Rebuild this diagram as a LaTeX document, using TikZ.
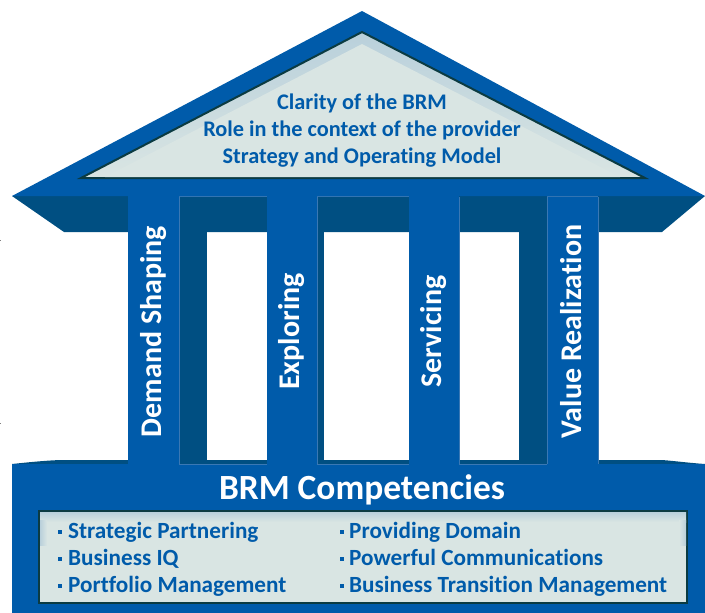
\documentclass[tikz,border=0pt]{standalone}
\usepackage{fontspec}
\setmainfont[Ligatures=NoCommon]{Carlito}
\definecolor{brmblue}{HTML}{005BAA}
\definecolor{brmdark}{HTML}{004F82}
\definecolor{brmlight}{HTML}{D9E5E3}
\definecolor{brmshade}{HTML}{B9D0DB}
\definecolor{brmline}{HTML}{0B3B42}
\definecolor{brmedge}{HTML}{3A78B4}
\tikzset{
  roofline/.style={font=\bfseries\fontsize{22.3}{22.3}\selectfont,text=brmblue,anchor=base,inner sep=0pt},
  listitem/.style={font=\bfseries\fontsize{23.2}{23.2}\selectfont,text=brmblue,anchor=base west,inner sep=0pt},
  pillartext/.style={font=\bfseries\fontsize{30}{30}\selectfont,text=white,anchor=base,rotate=90,inner sep=0pt},
  pillar/.style={fill=brmblue},
  pillaredge/.style={draw=brmedge,line width=.6pt},
}
\begin{document}
\begin{tikzpicture}[x=1pt,y=-1pt]
\useasboundingbox (0,0) rectangle (705,613);
% entablature and back walls
\fill[brmdark] (12,196) -- (705,196) -- (662,232) -- (64,232) -- cycle;
\fill[brmdark] (179,196) rectangle (207,464);
\fill[brmdark] (317,196) rectangle (324,464);
\fill[brmdark] (519,196) rectangle (547,464);
% sill under the windows
\fill[brmdark] (12,464) .. controls (40,461) and (55,460) .. (64,460) -- (662,460) .. controls (675,461) and (690,463) .. (705,464) -- cycle;
% base
\fill[brmblue] (12,464) rectangle (705,613);
% pillars
\foreach \a/\b in {128/179,267/317,409/459,547/598}{
  \fill[pillar] (\a,190) rectangle (\b,465);
}
\foreach \a/\b in {179/267,317/409,547/598}{
  \draw[pillaredge] (\a,196.5) -- (\b,196.5);
}
\foreach \a in {179,317,459,547,598}{
  \draw[pillaredge] (\a,197) -- (\a,464);
}
\draw[pillaredge] (179,464) -- (267,464) (317,464) -- (409,464) (459,464) -- (547,464);
% roof
\fill[brmblue] (362,11) -- (705,196) -- (12,196) -- cycle;
\shade[top color=brmshade,bottom color=brmlight,draw=brmline,line width=2pt] (362,32) -- (645,178) -- (81,178) -- cycle;
\fill[brmlight] (362,44) -- (620,177) -- (105,177) -- cycle;
% competency box
\fill[brmlight,draw=brmline,line width=2pt] (39,511) rectangle (687,603);
\shade[top color=brmshade,bottom color=brmlight] (40,512) rectangle (686,522);
\shade[left color=brmshade,right color=brmlight] (40,520) rectangle (47,545);
\shade[left color=brmlight,right color=brmshade] (679,520) rectangle (686,545);
% texts
\node[roofline] (t1) at (362,109) {Clarity of the BRM};
\node[roofline] (t2) at (362,136) {Role in the context of the provider};
\node[roofline] (t3) at (362,163) {Strategy and Operating Model};
\node[pillartext] (p1) at (161,331.5) {Demand Shaping};
\node[pillartext] (p2) at (299.5,331.5) {Exploring};
\node[pillartext] (p3) at (441,331.5) {Servicing};
\node[pillartext] (p4) at (581,331.5) {Value Realization};
\node[font=\bfseries\fontsize{35.4}{35.4}\selectfont,text=white,anchor=base,inner sep=0pt] (title) at (362,499) {BRM Competencies};
\foreach \n/\y/\tl/\tr in {a/538.5/Strategic Partnering/Providing Domain,b/565.5/Business IQ/Powerful Communications,c/592.5/Portfolio Management/Business Transition Management}{
  \fill[brmblue] (58,\y-9) rectangle (62,\y-5);
  \fill[brmblue] (340,\y-9) rectangle (344,\y-5);
  \node[listitem] (l\n) at (68,\y) {\tl};
  \node[listitem] (r\n) at (349,\y) {\tr};
}
% stray marks at the left edge
\fill[gray] (0,239.5) rectangle (1,240.5);
\fill[gray] (0,422.5) rectangle (1,423.5);
\end{tikzpicture}
\end{document}
